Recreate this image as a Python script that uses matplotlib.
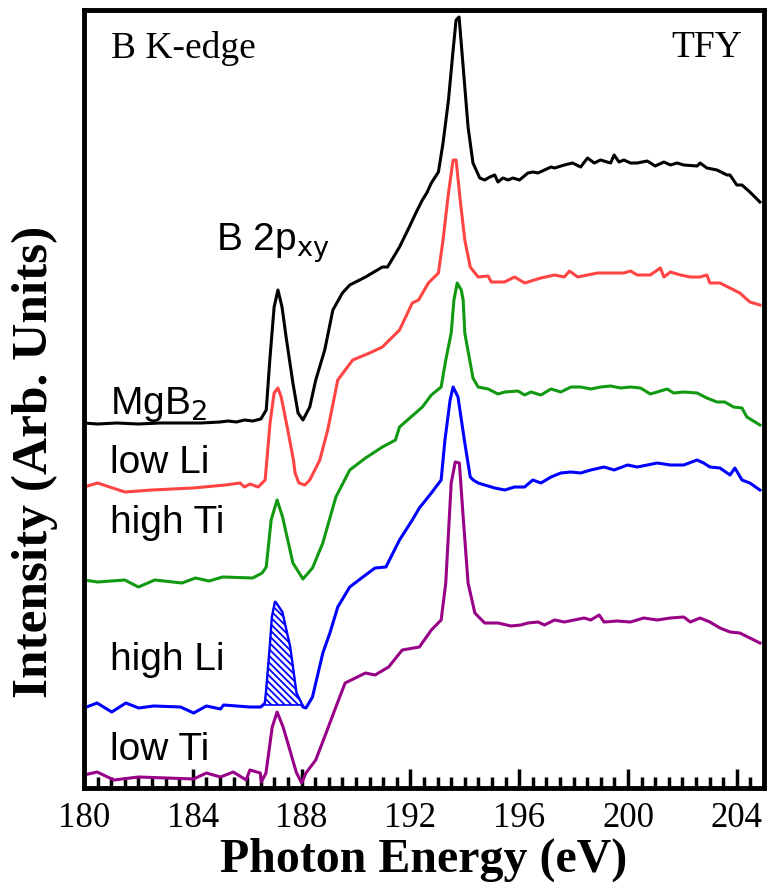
import numpy as np
import matplotlib
matplotlib.use("Agg")
import matplotlib.pyplot as plt
from matplotlib.ticker import MultipleLocator

plt.rcParams['hatch.linewidth'] = 1.3
plt.rcParams['hatch.color'] = 'blue'

# ---------------- data ----------------
E_mgb2 = [180.0, 180.5, 181.2, 182.0, 182.8, 183.5, 184.3, 185.0, 185.3, 185.6, 185.9, 186.2, 186.5,
          186.7, 186.84, 186.99, 187.13, 187.28, 187.43, 187.68, 187.87, 188.05, 188.3, 188.52, 188.85,
          189.15, 189.5, 189.77, 190.35, 190.97, 191.16, 191.6, 191.96, 192.2, 192.44, 192.6, 192.77,
          193.03, 193.2, 193.4, 193.57, 193.68, 193.79, 193.94, 194.12, 194.3,
          194.55, 194.73, 194.92, 195.1, 195.22, 195.4, 195.59, 195.77, 196.01, 196.32, 196.5, 196.69,
          196.93, 197.17, 197.3, 197.66, 197.96, 198.26, 198.51, 198.76, 198.99, 199.36, 199.49, 199.67,
          199.85, 200.09, 200.34, 200.71, 201.0, 201.32, 201.56, 201.8, 202.05, 202.54, 202.65, 202.9,
          203.27, 203.64, 203.75, 204.0, 204.19, 204.48, 204.85]
I_mgb2 = [365, 364, 365, 364, 365, 365, 365, 366, 367, 366, 368, 367, 369,
          378, 431, 481, 498, 481, 451, 405, 375, 368, 381, 408, 438,
          478, 495, 503, 511, 521, 521, 541, 561, 575, 588, 595, 605,
          616, 645, 688, 738, 768, 771, 721, 661, 625,
          610, 608, 611, 613, 606, 610, 608, 610, 608, 615, 616, 615,
          618, 621, 620, 623, 625, 621, 630, 625, 628, 625, 633, 626,
          628, 625, 625, 627, 622, 626, 623, 625, 623, 622, 625, 620,
          618, 613, 613, 603, 603, 596, 586]

E_lowli = [180.0, 180.5, 181.5, 182.5, 184.0, 185.2, 185.74, 185.9, 186.1, 186.4, 186.66, 186.84,
           186.99, 187.13, 187.25, 187.47, 187.7, 187.76, 187.9, 188.12, 188.3, 188.67, 188.96, 189.33,
           189.88, 190.5, 190.97, 191.6, 192.07, 192.3, 192.66, 193.03, 193.2, 193.4, 193.57, 193.68,
           193.83, 194.0, 194.2,
           194.49, 194.86, 194.97, 195.46, 195.83, 196.2, 196.56, 196.8, 197.3, 197.66, 197.85, 198.15,
           198.51, 198.88, 199.36, 199.85, 200.09, 200.34, 200.82, 201.19, 201.32, 201.56, 201.93,
           202.29, 202.65, 202.9, 203.01, 203.38, 203.75, 204.11, 204.48, 204.85]
I_lowli = [301, 305, 296, 298, 300, 303, 305, 301, 304, 301, 308, 365,
           395, 400, 391, 361, 328, 315, 305, 303, 308, 328, 358, 408,
           428, 435, 441, 458, 485, 488, 505, 515, 548, 595, 628, 628,
           588, 548, 521,
           511, 512, 506, 506, 511, 505, 508, 510, 513, 511, 517, 511,
           513, 515, 515, 515, 517, 513, 513, 520, 511, 516, 513,
           511, 511, 513, 505, 505, 500, 495, 486, 483]

E_highti = [180.0, 180.5, 181.5, 182.0, 182.6, 183.6, 184.1, 184.6, 185.1, 186.2, 186.55, 186.7, 186.88,
            187.1, 187.3, 187.68, 188.05, 188.4, 188.78, 189.26, 189.77, 190.35, 190.97, 191.45, 191.6,
            192.44, 192.77, 193.13, 193.3, 193.5, 193.6, 193.72, 193.87, 193.94, 194.0, 194.3,
            194.49, 194.86, 195.22, 195.47, 195.95, 196.2, 196.43, 196.8, 197.17, 197.53, 197.9, 198.26,
            198.63, 198.99, 199.36, 199.73, 200.09, 200.46, 200.82, 201.07, 201.44, 201.68, 202.05,
            202.54, 202.9, 203.27, 203.56, 203.88, 204.19, 204.37, 204.85]
I_highti = [208, 206, 208, 201, 208, 205, 210, 207, 211, 210, 215, 221, 268,
            288, 271, 225, 209, 220, 245, 291, 318, 330, 341, 348, 361,
            381, 393, 401, 428, 455, 488, 505, 498, 488, 455, 410,
            401, 399, 394, 396, 397, 393, 396, 393, 399, 396, 401, 401,
            399, 401, 402, 400, 401, 400, 394, 396, 399, 395, 396,
            395, 390, 386, 386, 381, 380, 371, 363]

E_highli = [180.0, 180.48, 181.02, 181.54, 182.01, 182.56, 183.55, 184.03, 184.5, 185.02, 185.13, 186.1,
            186.5, 186.66, 186.7, 186.84, 186.92, 187.03, 187.28, 187.57, 187.8, 188.05, 188.16, 188.4,
            188.78, 189.04, 189.33, 189.77, 190.35, 190.7, 191.1, 191.6, 192.07, 192.33, 192.77, 193.13,
            193.27, 193.46, 193.57, 193.75, 194.0, 194.2,
            194.31, 194.49, 194.73, 195.1, 195.47, 195.83, 196.2, 196.5, 196.8, 197.17, 197.53, 197.9,
            198.26, 198.63, 199.12, 199.49, 199.98, 200.34, 200.71, 201.07, 201.56, 202.05, 202.54,
            202.78, 203.01, 203.38, 203.75, 203.93, 204.19, 204.48, 204.85]
I_highli = [80, 85, 76, 85, 80, 82, 81, 75, 82, 79, 83, 81,
            81, 85, 95, 141, 171, 186, 176, 141, 95, 81, 80, 91,
            135, 155, 181, 201, 213, 220, 221, 248, 268, 280, 295, 308,
            348, 388, 401, 391, 345, 311,
            308, 305, 303, 300, 298, 301, 301, 308, 305, 311, 315, 316,
            315, 318, 321, 318, 323, 321, 323, 325, 323, 323, 328,
            325, 321, 320, 313, 320, 308, 305, 298]

E_lowti = [180.0, 180.48, 181.1, 182.0, 183.04, 184.03, 184.5, 185.02, 185.49, 185.96, 186.1, 186.48,
           186.52, 186.69, 186.92, 187.1, 187.32, 187.6, 187.8, 188.0, 188.16, 188.52, 188.9, 189.26,
           189.6, 190.35, 190.7, 191.2, 191.7, 192.33, 192.77, 193.13, 193.3, 193.5, 193.65, 193.8,
           193.94, 194.12, 194.37,
           194.73, 195.22, 195.7, 196.06, 196.32, 196.69, 196.93, 197.3, 197.66, 198.02, 198.39, 198.63,
           198.94, 199.12, 199.61, 200.09, 200.58, 201.07, 201.56, 202.05, 202.29, 202.65, 203.01,
           203.38, 203.75, 204.11, 204.48, 204.85]
I_lowti = [13, 16, 8, 11, 10, 9, 15, 11, 16, 8, 18, 15,
           6, 15, 61, 76, 61, 35, 16, 5, 15, 28, 55, 81,
           105, 115, 113, 121, 138, 141, 158, 168, 205, 305, 326, 325,
           271, 205, 175,
           165, 165, 162, 163, 165, 166, 163, 168, 166, 168, 170, 168,
           173, 166, 167, 166, 170, 168, 170, 171, 166, 170, 166,
           160, 156, 155, 150, 145]

series_names = ["MgB$_2$", "low Li", "high Ti", "high Li", "low Ti"]
series_colors = ["black", "#ff4444", "#119911", "#0000ff", "#990088"]
label_y = [383, 325, 265, 128, 38]

# hatched area under the B 2pxy peak of "high Li"
hatch_lo, hatch_hi, hatch_base = 186.62, 188.05, 83

# ---------------- figure ----------------
fig = plt.figure(figsize=(7.68, 8.91), dpi=100)
ax = fig.add_axes([84/768, 1-788/891, 680/768, 778/891])

serif = "Liberation Serif"
sans = "Liberation Sans"

Es = [E_mgb2, E_lowli, E_highti, E_highli, E_lowti]
Is = [I_mgb2, I_lowli, I_highti, I_highli, I_lowti]
for E, I, c in zip(Es, Is, series_colors):
    ax.plot(E, I, color=c, lw=2.2, solid_joinstyle='round')

# hatched fill
Eh = np.array(E_highli)
Ih = np.array(I_highli)
m = (Eh >= hatch_lo) & (Eh <= hatch_hi)
ax.fill_between(Eh[m], hatch_base, Ih[m], facecolor='white', edgecolor='blue',
                hatch='\\\\\\\\\\', lw=1.2, zorder=3)

for name, y in zip(series_names, label_y):
    ax.text(180.95, y, name, fontsize=28, family=sans, va='center', ha='left')

ax.text(184.85, 545, "B 2p$_{\\mathrm{xy}}$", fontsize=28, family=sans, va='center', ha='left')
ax.text(181.0, 740, "B K-edge", fontsize=27, family=serif, va='center', ha='left')
ax.text(204.2, 740, "TFY", fontsize=27, family=serif, va='center', ha='right')

ax.set_xlim(180, 205)
ax.set_ylim(0, 778)
ax.xaxis.set_major_locator(MultipleLocator(4))
ax.xaxis.set_minor_locator(MultipleLocator(0.5))
ax.set_yticks([])
ax.tick_params(axis='x', which='major', direction='in', length=14, width=2.5, labelsize=25, pad=10)
ax.tick_params(axis='x', which='minor', direction='in', length=8, width=2.5)
for lab in ax.get_xticklabels():
    lab.set_family(serif)
for sp in ax.spines.values():
    sp.set_linewidth(3.5)

ax.set_xlabel("Photon Energy (eV)", fontsize=34.5, family=serif, fontweight='bold', labelpad=2)
ax.set_ylabel("Intensity (Arb. Units)", fontsize=37, family=serif, fontweight='bold')
ax.yaxis.set_label_coords(-26/680, (788-462)/778)

fig.savefig("out.png", dpi=100)
